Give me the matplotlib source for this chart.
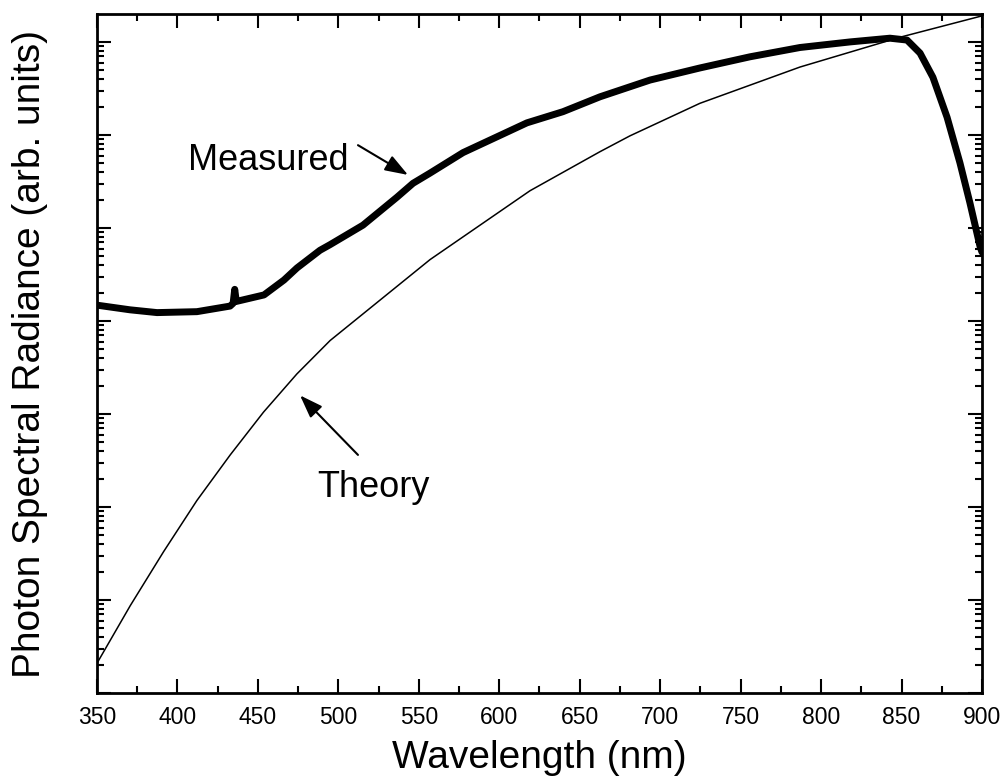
import numpy as np
import matplotlib
matplotlib.use("Agg")
import matplotlib.pyplot as plt
from matplotlib.ticker import LogLocator, NullFormatter, MultipleLocator

plt.rcParams['font.family'] = ['Liberation Sans', 'DejaVu Sans']

# theory curve, wavelength (nm) and log10 of radiance (arb. units)
theory_wl = [350, 370.7, 391.4, 412.1, 432.8, 453.5, 474.2, 494.9, 557.0,
             619.1, 662.6, 681.2, 724.7, 786.9, 849.0, 900]
theory_log = [0.32, 0.94, 1.52, 2.07, 2.56, 3.02, 3.43, 3.79, 4.66,
              5.40, 5.82, 5.99, 6.34, 6.73, 7.05, 7.28]

# measured curve
meas_wl = [350, 370.5, 387.3, 412.1, 432.7, 434.6, 435.6, 436.6, 453.8, 466.2,
           474.3, 488.6, 494.8, 515.3, 536.4, 546.4, 557.0, 577.5, 598.6,
           617.2, 639.6, 662.6, 693.7, 724.7, 755.8, 786.9, 818.0, 842.8,
           853.4, 861.5, 869.5, 878.3, 886.3, 892.5, 898.8, 900]
meas_log = [4.17, 4.12, 4.09, 4.10, 4.16, 4.19, 4.34, 4.21, 4.28, 4.44,
            4.57, 4.76, 4.82, 5.03, 5.33, 5.48, 5.59, 5.81, 5.98,
            6.13, 6.25, 6.41, 6.59, 6.72, 6.84, 6.94, 7.00, 7.04,
            7.02, 6.88, 6.62, 6.19, 5.70, 5.27, 4.80, 4.74]

theory = 10 ** np.array(theory_log)
measured = 10 ** np.array(meas_log)

fig = plt.figure(figsize=(10.05, 7.83), dpi=100)
ax = fig.add_axes([0.0965, 0.1149, 0.8806, 0.8672])

ax.plot(theory_wl, theory, color='black', lw=1.1)
ax.plot(meas_wl, measured, color='black', lw=5, solid_joinstyle='round',
        solid_capstyle='round')

ax.set_yscale('log')
ax.set_xlim(350, 900)
ax.set_ylim(1, 10 ** 7.3)

ax.xaxis.set_major_locator(MultipleLocator(50))
ax.xaxis.set_minor_locator(MultipleLocator(25))
ax.yaxis.set_major_locator(LogLocator(base=10, numticks=20))
ax.yaxis.set_minor_locator(LogLocator(base=10, subs=np.arange(2, 10), numticks=20))
ax.yaxis.set_major_formatter(NullFormatter())
ax.yaxis.set_minor_formatter(NullFormatter())

ax.tick_params(which='both', direction='in', top=True, right=True, width=1.5)
ax.tick_params(which='major', length=10, labelsize=16.5, pad=9)
ax.tick_params(which='minor', length=5)
for s in ax.spines.values():
    s.set_linewidth(2)

ax.set_xlabel('Wavelength (nm)', fontsize=28, labelpad=8)
ax.set_ylabel('Photon Spectral Radiance (arb. units)', fontsize=28, labelpad=26)

ax.text(456.3, 10 ** 5.73, 'Measured', fontsize=26, ha='center', va='center')
ax.text(522.1, 10 ** 2.21, 'Theory', fontsize=26, ha='center', va='center')

arrow = dict(arrowstyle='-|>,head_length=0.7,head_width=0.25', color='black',
             lw=1.5, mutation_scale=20, shrinkA=0, shrinkB=0)
ax.annotate('', xy=(543.3, 10 ** 5.57), xytext=(512.2, 10 ** 5.89),
            arrowprops=arrow)
ax.annotate('', xy=(476.2, 10 ** 3.20), xytext=(512.2, 10 ** 2.56),
            arrowprops=arrow)

fig.savefig('out.png', dpi=100)
